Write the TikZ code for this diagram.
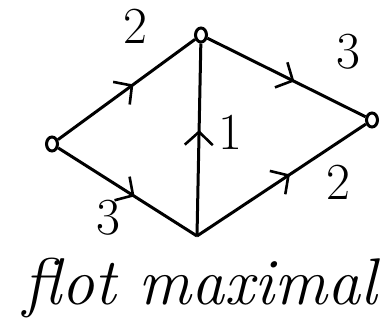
\documentclass[tikz,border=0pt]{standalone}
\usetikzlibrary{decorations.markings,arrows.meta,shapes.geometric}
\begin{document}
\begin{tikzpicture}[x=1pt,y=-1pt,
  vtx/.style={draw,ellipse,line width=3pt,minimum width=11pt,minimum height=14pt,inner sep=0pt},
  edge/.style={line width=3pt,postaction={decorate},decoration={markings,mark=at position 0.55 with {\arrow[line width=2.6pt]{Straight Barb[length=13pt,width=28pt]}}}},
  lbl/.style={font=\fontsize{52}{52}\selectfont}]
\useasboundingbox (0,0) rectangle (385,329);
\node[vtx] (s) at (52,144) {};
\node[vtx] (a) at (201,35) {};
\node[vtx] (t) at (372,120) {};
\coordinate (b) at (197,236);
\draw[edge] (s) -- (a);
\draw[edge] (a) -- (t);
\draw[edge] (s) -- (b);
\draw[edge] (b) -- (t);
\draw[edge] (b) -- (a);
\node[lbl] (l1) at (135,26) {2};
\node[lbl] (l2) at (348,52) {3};
\node[lbl] (l3) at (230,132) {1};
\node[lbl] (l4) at (108,218) {3};
\node[lbl] (l5) at (338,182) {2};
\node[font=\fontsize{66}{70}\selectfont\itshape] (cap) at (200,288) {flot maximal};
\end{tikzpicture}
\end{document}
